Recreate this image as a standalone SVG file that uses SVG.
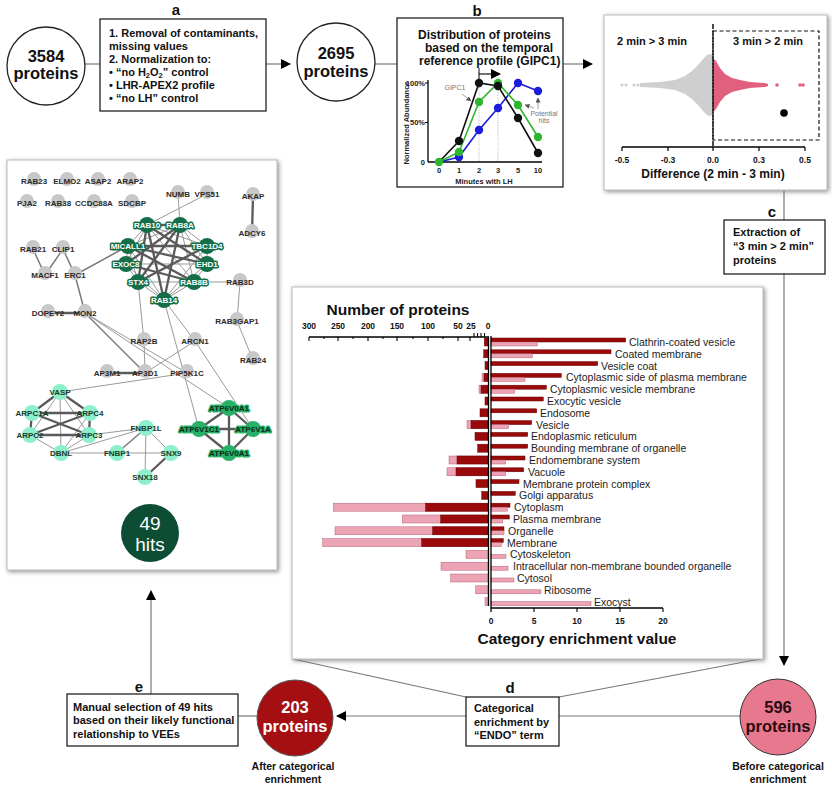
<svg xmlns="http://www.w3.org/2000/svg" width="832" height="785" viewBox="0 0 832 785">
<defs>
<filter id="sh" x="-5%" y="-5%" width="110%" height="110%">
<feDropShadow dx="1.5" dy="1.5" stdDeviation="2" flood-color="#777" flood-opacity="0.8"/>
</filter>
<marker id="ah" viewBox="0 0 10 10" refX="9" refY="5" markerWidth="10" markerHeight="10" markerUnits="userSpaceOnUse" orient="auto">
<path d="M0,0 L10,5 L0,10 z" fill="#000"/>
</marker>
<marker id="sa" viewBox="0 0 10 10" refX="9" refY="5" markerWidth="5" markerHeight="5" markerUnits="userSpaceOnUse" orient="auto">
<path d="M0,0 L10,5 L0,10 z" fill="#555"/>
</marker>
</defs>
<style>
text{font-family:"Liberation Sans",Arial,Helvetica,sans-serif;}
.b{font-weight:bold;}
.flow{stroke:#777;stroke-width:1.2;fill:none;}
.box{fill:#fff;stroke:#222;stroke-width:1.3;}
.panel{fill:#fff;stroke:#bbb;stroke-width:1;}
.lbl{font-size:15px;font-weight:bold;text-anchor:middle;fill:#111;}
.bt{font-size:11px;font-weight:bold;fill:#111;}
.ct{font-size:16.5px;font-weight:bold;text-anchor:middle;}
.sub{font-size:10.5px;font-weight:bold;text-anchor:middle;fill:#111;}
.e1{stroke:#9a9a9a;stroke-width:1;}
.e2{stroke:#5a5a5a;stroke-width:2.3;}
.e3{stroke:#7a7a7a;stroke-width:1.5;}
.gc{fill:#c8c8c8;}
.gt{font-size:8px;font-weight:bold;text-anchor:middle;fill:#2a2a2a;}
.dc{fill:#146f48;}
.dt{font-size:8px;font-weight:bold;text-anchor:middle;fill:#fff;stroke:#146f48;stroke-width:3;paint-order:stroke;stroke-linejoin:round;}
.mc{fill:#27b068;}
.mt{font-size:8px;font-weight:bold;text-anchor:middle;fill:#0a2a18;stroke:#27b068;stroke-width:3;paint-order:stroke;stroke-linejoin:round;}
.lc{fill:#8df0cb;}
.lt{font-size:8px;font-weight:bold;text-anchor:middle;fill:#1b3b2c;}
.dk{fill:#9b0a0a;stroke:#650000;stroke-width:0.5;}
.lp{fill:#eca4b4;stroke:#b5607a;stroke-width:0.5;}
.cat{font-size:10.5px;fill:#222;}
.tk{font-size:8.5px;font-weight:bold;text-anchor:middle;fill:#111;}
.ax{stroke:#000;stroke-width:1.3;fill:none;}
.ss{font-size:7.5px;font-weight:bold;fill:#222;}
</style>
<rect width="832" height="785" fill="#fff"/>

<!-- connectors of the flow -->
<g id="connectors">
<line class="flow" x1="85" y1="64" x2="100" y2="64"/>
<line class="flow" x1="266" y1="64" x2="290" y2="64" marker-end="url(#ah)"/>
<line class="flow" x1="375" y1="64" x2="397" y2="64"/>
<line class="flow" x1="563" y1="64" x2="592" y2="64" marker-end="url(#ah)"/>
<line class="flow" x1="784" y1="113" x2="784" y2="220"/>
<line class="flow" x1="784" y1="274" x2="784" y2="665" marker-end="url(#ah)"/>
<line class="flow" x1="740" y1="716" x2="559" y2="716"/>
<line class="flow" x1="466" y1="716" x2="337" y2="716" marker-end="url(#ah)"/>
<line class="flow" x1="257" y1="716" x2="238" y2="716"/>
<line class="flow" x1="151" y1="694" x2="151" y2="591" marker-end="url(#ah)"/>
<line class="flow" x1="293" y1="659" x2="466" y2="697"/>
<line class="flow" x1="760" y1="659" x2="559" y2="697"/>
</g>

<!-- 3584 proteins -->
<g id="n3584">
<circle cx="46" cy="66" r="39" fill="#fff" stroke="#222" stroke-width="1.3"/>
<text class="ct" x="46" y="62" fill="#111">3584</text>
<text class="ct" x="46" y="79" fill="#111">proteins</text>
</g>

<!-- box a -->
<g id="boxA">
<text class="lbl" x="176" y="15">a</text>
<rect class="box" x="100" y="19" width="166" height="92"/>
<text class="bt" x="109" y="37">1. Removal of contaminants,</text>
<text class="bt" x="109" y="50">missing values</text>
<text class="bt" x="109" y="63">2. Normalization to:</text>
<text class="bt" x="109" y="76">• “no H<tspan font-size="7.5" dy="2">2</tspan><tspan dy="-2">O</tspan><tspan font-size="7.5" dy="2">2</tspan><tspan dy="-2">” control</tspan></text>
<text class="bt" x="109" y="89">• LHR-APEX2 profile</text>
<text class="bt" x="109" y="102">• “no LH” control</text>
</g>

<!-- 2695 proteins -->
<g id="n2695">
<circle cx="336" cy="62" r="39" fill="#fff" stroke="#222" stroke-width="1.3"/>
<text class="ct" x="336" y="59" fill="#111">2695</text>
<text class="ct" x="336" y="77" fill="#111">proteins</text>
</g>

<!-- box b -->
<g id="boxB">
<text class="lbl" x="477" y="16">b</text>
<rect class="box" x="397" y="18" width="166" height="169"/>
<text class="b" font-size="12" x="418" y="39" fill="#111">Distribution of proteins</text>
<text class="b" font-size="12" x="425" y="52" fill="#111">based on the temporal</text>
<text class="b" font-size="12" x="419" y="65" fill="#111">reference profile (GIPC1)</text>
<line x1="479" y1="72" x2="479" y2="162" stroke="#bbb" stroke-width="0.8" stroke-dasharray="1.5 1"/>
<line x1="498" y1="72" x2="498" y2="162" stroke="#bbb" stroke-width="0.8" stroke-dasharray="1.5 1"/>
<line x1="479" y1="68" x2="479" y2="79" stroke="#111" stroke-width="1"/>
<line x1="479" y1="74" x2="500" y2="74" stroke="#111" stroke-width="1.2" marker-end="url(#ah)"/>
<line class="ax" x1="428" y1="80" x2="428" y2="162" stroke-width="1"/>
<line class="ax" x1="428" y1="162" x2="542" y2="162" stroke-width="1"/>
<line x1="425" y1="83" x2="428" y2="83" stroke="#000"/>
<line x1="425" y1="122.5" x2="428" y2="122.5" stroke="#000"/>
<text class="ss" x="425" y="86" text-anchor="end" font-size="7">100%</text>
<text class="ss" x="425" y="125" text-anchor="end" font-size="7">50%</text>
<text class="ss" x="425" y="165" text-anchor="end" font-size="7">0</text>
<text class="ss" x="439" y="173" text-anchor="middle">0</text>
<text class="ss" x="459" y="173" text-anchor="middle">1</text>
<text class="ss" x="479" y="173" text-anchor="middle">2</text>
<text class="ss" x="498" y="173" text-anchor="middle">3</text>
<text class="ss" x="518" y="173" text-anchor="middle">5</text>
<text class="ss" x="538" y="173" text-anchor="middle">10</text>
<text class="ss" x="484" y="184" text-anchor="middle" font-size="8">Minutes with LH</text>
<text class="ss" x="0" y="0" text-anchor="middle" font-size="7.5" transform="translate(409,123) rotate(-90)">Normalized Abundance</text>
<polyline points="439,162 459,157 479,130 498,108 518,83 538,91" fill="none" stroke="#1c1cdc" stroke-width="1.6"/>
<polyline points="439,162 459,152 479,102 498,83 518,105 538,137" fill="none" stroke="#2fb52f" stroke-width="1.6"/>
<polyline points="439,162 459,141 479,83 498,86 518,118 538,153" fill="none" stroke="#111" stroke-width="1.6"/>
<g fill="#1c1cdc"><circle cx="459" cy="157" r="4.2"/><circle cx="479" cy="130" r="4.2"/><circle cx="498" cy="108" r="4.2"/><circle cx="518" cy="83" r="4.2"/><circle cx="538" cy="91" r="4.2"/></g>
<g fill="#2fb52f"><circle cx="459" cy="152" r="4.2"/><circle cx="479" cy="102" r="4.2"/><circle cx="498" cy="83" r="4.2"/><circle cx="518" cy="105" r="4.2"/><circle cx="538" cy="137" r="4.2"/></g>
<g fill="#111"><circle cx="459" cy="141" r="4.2"/><circle cx="479" cy="83" r="4.2"/><circle cx="498" cy="86" r="4.2"/><circle cx="518" cy="118" r="4.2"/><circle cx="538" cy="153" r="4.2"/></g>
<circle cx="439" cy="162" r="4.2" fill="#2fb52f"/>
<text x="455" y="90" font-size="7" fill="#777" text-anchor="middle">GIPC1</text>
<line x1="462" y1="94" x2="471" y2="101" stroke="#777" stroke-width="0.7" marker-end="url(#sa)"/>
<text x="544" y="116" font-size="7" fill="#777" text-anchor="middle">Potential</text>
<text x="544" y="123" font-size="7" fill="#777" text-anchor="middle">hits</text>
<line x1="534" y1="108" x2="525" y2="105" stroke="#777" stroke-width="0.7" marker-end="url(#sa)"/>
<line x1="538" y1="109" x2="538" y2="98" stroke="#777" stroke-width="0.7" marker-end="url(#sa)"/>
</g>

<!-- beeswarm panel -->
<g id="panelSwarm">
<rect class="panel" x="604" y="15" width="223" height="175" filter="url(#sh)"/>
<text class="b" font-size="11" x="652" y="45" text-anchor="middle" fill="#111">2 min &gt; 3 min</text>
<text class="b" font-size="11" x="768" y="45" text-anchor="middle" fill="#111">3 min &gt; 2 min</text>
<g fill="#cfcfcf">
<circle cx="622" cy="85" r="1.6"/><circle cx="626" cy="85" r="1.6"/><circle cx="634" cy="85" r="1.6"/><circle cx="638" cy="85" r="1.6"/><circle cx="643" cy="85" r="1.6"/><circle cx="647" cy="85" r="1.6"/><circle cx="651" cy="85" r="1.6"/>
<path d="M640,83 L660,82 L675,80 L685,76 L692,71 L698,65 L703,59 L707,55 L710,54 L713,55 L713,115 L710,116 L707,115 L703,111 L698,105 L692,99 L685,94 L675,90 L660,88 L640,87 Z"/>
</g>
<g fill="#e0607d">
<path d="M713,58 L716,61 L720,68 L725,74 L732,78 L740,80 L750,82 L765,83 L768,84 L768,86 L765,87 L750,88 L740,90 L732,92 L725,96 L720,102 L716,109 L713,112 Z"/>
<circle cx="777" cy="85" r="1.8"/><circle cx="800" cy="85" r="1.8"/><circle cx="803" cy="85" r="1.8"/>
</g>
<rect x="713" y="31" width="106" height="109" fill="none" stroke="#111" stroke-width="1.2" stroke-dasharray="4 2.5"/>
<line x1="713" y1="24" x2="713" y2="147" stroke="#111" stroke-width="1.5" stroke-dasharray="5 1.5"/>
<line class="ax" x1="622" y1="147" x2="805" y2="147"/>
<g stroke="#000" stroke-width="1.2">
<line x1="622" y1="147" x2="622" y2="151"/><line x1="668" y1="147" x2="668" y2="151"/><line x1="713" y1="147" x2="713" y2="151"/><line x1="759" y1="147" x2="759" y2="151"/><line x1="805" y1="147" x2="805" y2="151"/>
</g>
<text class="tk" x="622" y="163">-0.5</text>
<text class="tk" x="668" y="163">-0.3</text>
<text class="tk" x="713" y="163">0.0</text>
<text class="tk" x="759" y="163">0.3</text>
<text class="tk" x="805" y="163">0.5</text>
<text class="b" font-size="12" x="713" y="178" text-anchor="middle" fill="#111">Difference (2 min - 3 min)</text>
<circle cx="784" cy="113" r="3.8" fill="#000"/>
</g>

<!-- box c -->
<g id="boxC">
<text class="lbl" x="772" y="217">c</text>
<rect class="box" x="724" y="220" width="101" height="54"/>
<text class="bt" x="733" y="236">Extraction of</text>
<text class="bt" x="733" y="250">“3 min &gt; 2 min”</text>
<text class="bt" x="733" y="264">proteins</text>
</g>

<!-- 596 proteins -->
<g id="n596">
<circle cx="778" cy="717" r="38" fill="#e7788e" stroke="#333" stroke-width="1"/>
<text class="ct" x="778" y="713" fill="#2a0a10">596</text>
<text class="ct" x="778" y="732" fill="#2a0a10">proteins</text>
<text class="sub" x="778" y="770">Before categorical</text>
<text class="sub" x="778" y="783">enrichment</text>
</g>

<!-- box d -->
<g id="boxD">
<text class="lbl" x="510" y="693">d</text>
<rect class="box" x="466" y="697" width="93" height="49"/>
<text class="bt" x="474" y="712">Categorical</text>
<text class="bt" x="474" y="726">enrichment by</text>
<text class="bt" x="474" y="739">“ENDO” term</text>
</g>

<!-- 203 proteins -->
<g id="n203">
<circle cx="295" cy="718" r="38" fill="#a50f12" stroke="#555" stroke-width="1"/>
<text class="ct" x="295" y="713" fill="#fff">203</text>
<text class="ct" x="295" y="732" fill="#fff">proteins</text>
<text class="sub" x="293" y="770">After categorical</text>
<text class="sub" x="293" y="783">enrichment</text>
</g>

<!-- box e -->
<g id="boxE">
<text class="lbl" x="139" y="692">e</text>
<rect class="box" x="67" y="694" width="171" height="52"/>
<text class="bt" x="73" y="711">Manual selection of 49 hits</text>
<text class="bt" x="73" y="724">based on their likely functional</text>
<text class="bt" x="73" y="738">relationship to VEEs</text>
</g>

<!-- bar chart panel -->
<g id="panelBars">
<rect class="panel" x="292" y="287" width="471" height="372" filter="url(#sh)"/>
<text class="b" font-size="15.5" x="398" y="315" text-anchor="middle" fill="#111">Number of proteins</text>
<line class="ax" x1="309" y1="337" x2="489" y2="337"/>
<g stroke="#000" stroke-width="1.1">
<line x1="309" y1="337" x2="309" y2="341"/><line x1="338" y1="337" x2="338" y2="341"/><line x1="368" y1="337" x2="368" y2="341"/><line x1="397" y1="337" x2="397" y2="341"/><line x1="428" y1="337" x2="428" y2="341"/><line x1="458" y1="337" x2="458" y2="341"/><line x1="470" y1="337" x2="470" y2="341"/>
<line x1="324" y1="337" x2="324" y2="339"/><line x1="353" y1="337" x2="353" y2="339"/><line x1="383" y1="337" x2="383" y2="339"/><line x1="413" y1="337" x2="413" y2="339"/><line x1="443" y1="337" x2="443" y2="339"/>
<line x1="474" y1="337" x2="474" y2="333"/><line x1="477.5" y1="337" x2="477.5" y2="333"/><line x1="481" y1="337" x2="481" y2="333"/><line x1="484.5" y1="337" x2="484.5" y2="333"/>
</g>
<text class="tk" x="309" y="329">300</text>
<text class="tk" x="338" y="329">250</text>
<text class="tk" x="368" y="329">200</text>
<text class="tk" x="397" y="329">150</text>
<text class="tk" x="428" y="329">100</text>
<text class="tk" x="458" y="329">50</text>
<text class="tk" x="471" y="329">25</text>
<text class="tk" x="488" y="329">0</text>

<!-- left bars (number of proteins) -->
<g>
<rect class="lp" x="482" y="373.4" width="6" height="8"/>
<rect class="lp" x="479" y="385.2" width="9" height="8"/>
<rect class="lp" x="467" y="420.6" width="21" height="8"/>
<rect class="lp" x="449" y="456" width="39" height="8"/>
<rect class="lp" x="447" y="467.8" width="41" height="8"/>
<rect class="lp" x="333.3" y="503.2" width="154.7" height="8"/>
<rect class="lp" x="402.3" y="515" width="85.7" height="8"/>
<rect class="lp" x="335" y="526.8" width="153" height="8"/>
<rect class="lp" x="322.7" y="538.6" width="165.3" height="8"/>
<rect class="lp" x="466" y="550.4" width="22" height="8"/>
<rect class="lp" x="441" y="562.2" width="47" height="8"/>
<rect class="lp" x="450.7" y="574" width="37.3" height="8"/>
<rect class="lp" x="475.7" y="585.8" width="12.3" height="8"/>
<rect class="lp" x="485" y="597.6" width="3" height="8"/>

<rect class="dk" x="484.3" y="338" width="3.7" height="8"/>
<rect class="dk" x="483.7" y="349.8" width="4.3" height="8"/>
<rect class="dk" x="485" y="361.6" width="3" height="8"/>
<rect class="dk" x="484" y="373.4" width="4" height="8"/>
<rect class="dk" x="481" y="385.2" width="7" height="8"/>
<rect class="dk" x="485" y="397" width="3" height="8"/>
<rect class="dk" x="480" y="408.8" width="8" height="8"/>
<rect class="dk" x="471" y="420.6" width="17" height="8"/>
<rect class="dk" x="475" y="432.4" width="13" height="8"/>
<rect class="dk" x="477.7" y="444.2" width="10.3" height="8"/>
<rect class="dk" x="457" y="456" width="31" height="8"/>
<rect class="dk" x="456" y="467.8" width="32" height="8"/>
<rect class="dk" x="476" y="479.6" width="12" height="8"/>
<rect class="dk" x="481.7" y="491.4" width="6.3" height="8"/>
<rect class="dk" x="425.7" y="503.2" width="62.3" height="8"/>
<rect class="dk" x="440.7" y="515" width="47.3" height="8"/>
<rect class="dk" x="432.7" y="526.8" width="55.3" height="8"/>
<rect class="dk" x="421.7" y="538.6" width="66.3" height="8"/>
</g>

<!-- right bars (enrichment) -->
<g>
<rect class="dk" x="491" y="338" width="134.7" height="4"/><rect class="lp" x="491" y="342" width="46.3" height="4"/>
<rect class="dk" x="491" y="349.8" width="120" height="4"/><rect class="lp" x="491" y="353.8" width="41.3" height="4"/>
<rect class="dk" x="491" y="361.6" width="106.7" height="4"/>
<rect class="dk" x="491" y="373.4" width="70.3" height="4"/><rect class="lp" x="491" y="377.4" width="34" height="4"/>
<rect class="dk" x="491" y="385.2" width="55.3" height="4"/><rect class="lp" x="491" y="389.2" width="23.7" height="4"/>
<rect class="dk" x="491" y="397" width="52.3" height="4"/>
<rect class="dk" x="491" y="408.8" width="45.7" height="4"/>
<rect class="dk" x="491" y="420.6" width="40.7" height="4"/><rect class="lp" x="491" y="424.6" width="17.7" height="4"/>
<rect class="dk" x="491" y="432.4" width="36.7" height="4"/>
<rect class="dk" x="491" y="444.2" width="36.7" height="4"/>
<rect class="dk" x="491" y="456" width="34" height="4"/><rect class="lp" x="491" y="460" width="14.7" height="4"/>
<rect class="dk" x="491" y="467.8" width="32.7" height="4"/><rect class="lp" x="491" y="471.8" width="14.7" height="4"/>
<rect class="dk" x="491" y="479.6" width="28" height="4"/>
<rect class="dk" x="491" y="491.4" width="24.3" height="4"/>
<rect class="dk" x="491" y="503.2" width="19" height="4"/><rect class="lp" x="491" y="507.2" width="16.3" height="4"/>
<rect class="dk" x="491" y="515" width="18.3" height="4"/><rect class="lp" x="491" y="519" width="11.7" height="4"/>
<rect class="dk" x="491" y="526.8" width="13" height="4"/><rect class="lp" x="491" y="530.8" width="13" height="4"/>
<rect class="dk" x="491" y="538.6" width="12.3" height="4"/><rect class="lp" x="491" y="542.6" width="10.3" height="4"/>
<rect class="lp" x="491" y="554.4" width="15" height="4"/>
<rect class="lp" x="491" y="566.2" width="17" height="4"/>
<rect class="lp" x="491" y="578" width="23" height="4"/>
<rect class="lp" x="491" y="589.8" width="50" height="4"/>
<rect class="lp" x="491" y="601.6" width="100" height="4"/>
</g>
<g>
<text class="cat" x="629" y="346">Clathrin-coated vesicle</text>
<text class="cat" x="615" y="357.8">Coated membrane</text>
<text class="cat" x="601" y="369.6">Vesicle coat</text>
<text class="cat" x="566" y="381.4">Cytoplasmic side of plasma membrane</text>
<text class="cat" x="550" y="393.2">Cytoplasmic vesicle membrane</text>
<text class="cat" x="547" y="405">Exocytic vesicle</text>
<text class="cat" x="540" y="416.8">Endosome</text>
<text class="cat" x="536" y="428.6">Vesicle</text>
<text class="cat" x="531" y="440.4">Endoplasmic reticulum</text>
<text class="cat" x="531" y="452.2">Bounding membrane of organelle</text>
<text class="cat" x="529" y="464">Endomembrane system</text>
<text class="cat" x="528" y="475.8">Vacuole</text>
<text class="cat" x="523" y="487.6">Membrane protein complex</text>
<text class="cat" x="519" y="499.4">Golgi apparatus</text>
<text class="cat" x="514" y="511.2">Cytoplasm</text>
<text class="cat" x="513" y="523">Plasma membrane</text>
<text class="cat" x="508" y="534.8">Organelle</text>
<text class="cat" x="507" y="546.6">Membrane</text>
<text class="cat" x="510" y="558.4">Cytoskeleton</text>
<text class="cat" x="513" y="570.2">Intracellular non-membrane bounded organelle</text>
<text class="cat" x="517" y="582">Cytosol</text>
<text class="cat" x="544" y="593.8">Ribosome</text>
<text class="cat" x="594" y="605.6">Exocyst</text>
</g>
<line class="ax" x1="488.5" y1="337" x2="488.5" y2="606"/>
<line class="ax" x1="491" y1="336" x2="491" y2="612" stroke-width="1.5"/>
<line class="ax" x1="491" y1="608" x2="663" y2="608"/>
<g stroke="#000" stroke-width="1.1">
<line x1="534" y1="608" x2="534" y2="612"/><line x1="577" y1="608" x2="577" y2="612"/><line x1="620" y1="608" x2="620" y2="612"/><line x1="663" y1="608" x2="663" y2="612"/>
</g>
<text class="tk" x="491" y="624">0</text>
<text class="tk" x="534" y="624">5</text>
<text class="tk" x="577" y="624">10</text>
<text class="tk" x="620" y="624">15</text>
<text class="tk" x="663" y="624">20</text>
<text class="b" font-size="15.5" x="577" y="644" text-anchor="middle" fill="#111">Category enrichment value</text>
</g>

<!-- network panel -->
<g id="panelNetwork">
<rect class="panel" x="7" y="160" width="270" height="410" filter="url(#sh)"/>
</g>

<g id="net-edges">
<line class="e1" x1="178" y1="194" x2="180" y2="225"/>
<line class="e1" x1="207" y1="194" x2="147" y2="225"/>
<line class="e2" x1="253" y1="196" x2="252" y2="233"/>
<line class="e3" x1="33" y1="249" x2="45" y2="275"/>
<line class="e3" x1="63" y1="249" x2="45" y2="275"/>
<line class="e3" x1="63" y1="249" x2="75" y2="275"/>
<line class="e3" x1="75" y1="275" x2="128" y2="246"/>
<line class="e3" x1="75" y1="275" x2="85" y2="313"/>
<line class="e2" x1="48" y1="313" x2="85" y2="313"/>
<line class="e3" x1="85" y1="313" x2="145" y2="373"/>
<line class="e1" x1="85" y1="313" x2="187" y2="373"/>
<line class="e1" x1="85" y1="313" x2="229" y2="408"/>
<line class="e1" x1="194" y1="282" x2="240" y2="282"/>
<line class="e1" x1="240" y1="282" x2="237" y2="321"/>
<line class="e1" x1="237" y1="321" x2="253" y2="360"/>
<line class="e1" x1="138" y1="282" x2="144" y2="341"/>
<line class="e1" x1="144" y1="341" x2="145" y2="373"/>
<line class="e1" x1="164" y1="300" x2="195" y2="341"/>
<line class="e1" x1="164" y1="300" x2="199" y2="429"/>
<line class="e1" x1="195" y1="341" x2="253" y2="429"/>
<line class="e1" x1="195" y1="341" x2="145" y2="373"/>
<line class="e2" x1="107" y1="373" x2="145" y2="373"/>
<line class="e1" x1="187" y1="373" x2="60" y2="392"/>
<!-- RAB cluster -->
<line class="e1" x1="147" y1="225" x2="128" y2="246"/>
<line class="e1" x1="147" y1="225" x2="207" y2="246"/>
<line class="e1" x1="147" y1="225" x2="126" y2="264"/>
<line class="e1" x1="147" y1="225" x2="194" y2="282"/>
<line class="e1" x1="180" y1="225" x2="128" y2="246"/>
<line class="e1" x1="180" y1="225" x2="207" y2="246"/>
<line class="e1" x1="180" y1="225" x2="207" y2="264"/>
<line class="e1" x1="180" y1="225" x2="194" y2="282"/>
<line class="e1" x1="128" y1="246" x2="126" y2="264"/>
<line class="e1" x1="128" y1="246" x2="138" y2="282"/>
<line class="e1" x1="128" y1="246" x2="164" y2="300"/>
<line class="e1" x1="207" y1="246" x2="207" y2="264"/>
<line class="e1" x1="207" y1="246" x2="164" y2="300"/>
<line class="e1" x1="126" y1="264" x2="138" y2="282"/>
<line class="e1" x1="126" y1="264" x2="164" y2="300"/>
<line class="e1" x1="126" y1="264" x2="207" y2="264"/>
<line class="e1" x1="207" y1="264" x2="194" y2="282"/>
<line class="e1" x1="207" y1="264" x2="164" y2="300"/>
<line class="e1" x1="138" y1="282" x2="194" y2="282"/>
<line class="e1" x1="138" y1="282" x2="164" y2="300"/>
<line class="e1" x1="194" y1="282" x2="164" y2="300"/>
<line class="e2" x1="147" y1="225" x2="180" y2="225"/>
<line class="e2" x1="147" y1="225" x2="138" y2="282"/>
<line class="e2" x1="147" y1="225" x2="164" y2="300"/>
<line class="e2" x1="147" y1="225" x2="207" y2="264"/>
<line class="e2" x1="180" y1="225" x2="138" y2="282"/>
<line class="e2" x1="180" y1="225" x2="164" y2="300"/>
<line class="e2" x1="180" y1="225" x2="126" y2="264"/>
<line class="e2" x1="128" y1="246" x2="207" y2="264"/>
<line class="e2" x1="128" y1="246" x2="207" y2="246"/>
<line class="e2" x1="128" y1="246" x2="194" y2="282"/>
<line class="e2" x1="126" y1="264" x2="194" y2="282"/>
<line class="e2" x1="207" y1="246" x2="138" y2="282"/>
<!-- actin cluster -->
<line class="e1" x1="60" y1="392" x2="30" y2="435"/>
<line class="e1" x1="60" y1="392" x2="89" y2="435"/>
<line class="e1" x1="60" y1="392" x2="61" y2="453"/>
<line class="e1" x1="30" y1="435" x2="61" y2="453"/>
<line class="e1" x1="89" y1="435" x2="61" y2="453"/>
<line class="e1" x1="90" y1="413" x2="61" y2="453"/>
<line class="e1" x1="61" y1="453" x2="117" y2="453"/>
<line class="e1" x1="61" y1="453" x2="146" y2="428"/>
<line class="e1" x1="89" y1="435" x2="146" y2="428"/>
<line class="e1" x1="117" y1="453" x2="171" y2="453"/>
<line class="e1" x1="146" y1="428" x2="171" y2="453"/>
<line class="e1" x1="146" y1="428" x2="145" y2="477"/>
<line class="e3" x1="146" y1="428" x2="117" y2="453"/>
<line class="e2" x1="171" y1="453" x2="145" y2="477"/>
<line class="e2" x1="60" y1="392" x2="32" y2="413"/>
<line class="e2" x1="60" y1="392" x2="90" y2="413"/>
<line class="e2" x1="32" y1="413" x2="90" y2="413"/>
<line class="e2" x1="30" y1="435" x2="89" y2="435"/>
<line class="e2" x1="32" y1="413" x2="89" y2="435"/>
<line class="e2" x1="90" y1="413" x2="30" y2="435"/>
<line class="e2" x1="32" y1="413" x2="30" y2="435"/>
<line class="e2" x1="90" y1="413" x2="89" y2="435"/>
<!-- ATPase cluster -->
<line class="e2" x1="229" y1="408" x2="199" y2="429"/>
<line class="e2" x1="229" y1="408" x2="253" y2="429"/>
<line class="e2" x1="229" y1="408" x2="229" y2="453"/>
<line class="e2" x1="199" y1="429" x2="253" y2="429"/>
<line class="e2" x1="199" y1="429" x2="229" y2="453"/>
<line class="e2" x1="253" y1="429" x2="229" y2="453"/>
</g>

<!-- gray nodes -->
<g id="n-RAB23"><circle class="gc" cx="34" cy="179" r="7"/><text class="gt" x="34" y="184">RAB23</text></g>
<g id="n-ELMO2"><circle class="gc" cx="67" cy="179" r="7"/><text class="gt" x="67" y="184">ELMO2</text></g>
<g id="n-ASAP2"><circle class="gc" cx="98" cy="179" r="7"/><text class="gt" x="98" y="184">ASAP2</text></g>
<g id="n-ARAP2"><circle class="gc" cx="130" cy="179" r="7"/><text class="gt" x="130" y="184">ARAP2</text></g>
<g id="n-PJA2"><circle class="gc" cx="27" cy="201" r="7"/><text class="gt" x="27" y="206">PJA2</text></g>
<g id="n-RAB38"><circle class="gc" cx="58" cy="201" r="7"/><text class="gt" x="58" y="206">RAB38</text></g>
<g id="n-CCDC88A"><circle class="gc" cx="94" cy="201" r="7"/><text class="gt" x="94" y="206">CCDC88A</text></g>
<g id="n-SDCBP"><circle class="gc" cx="132" cy="201" r="7"/><text class="gt" x="132" y="206">SDCBP</text></g>
<g id="n-NUMB"><circle class="gc" cx="178" cy="192" r="7"/><text class="gt" x="178" y="197">NUMB</text></g>
<g id="n-VPS51"><circle class="gc" cx="207" cy="192" r="7"/><text class="gt" x="207" y="197">VPS51</text></g>
<g id="n-AKAP"><circle class="gc" cx="253" cy="194" r="7"/><text class="gt" x="253" y="199">AKAP</text></g>
<g id="n-ADCY6"><circle class="gc" cx="252" cy="231" r="7"/><text class="gt" x="252" y="236">ADCY6</text></g>
<g id="n-RAB21"><circle class="gc" cx="33" cy="247" r="7"/><text class="gt" x="33" y="252">RAB21</text></g>
<g id="n-CLIP1"><circle class="gc" cx="63" cy="247" r="7"/><text class="gt" x="63" y="252">CLIP1</text></g>
<g id="n-MACF1"><circle class="gc" cx="45" cy="273" r="7"/><text class="gt" x="45" y="278">MACF1</text></g>
<g id="n-ERC1"><circle class="gc" cx="75" cy="273" r="7"/><text class="gt" x="75" y="278">ERC1</text></g>
<g id="n-DOPEY2"><circle class="gc" cx="48" cy="311" r="7"/><text class="gt" x="48" y="316">DOPEY2</text></g>
<g id="n-MON2"><circle class="gc" cx="85" cy="311" r="7"/><text class="gt" x="85" y="316">MON2</text></g>
<g id="n-RAB3D"><circle class="gc" cx="240" cy="280" r="7"/><text class="gt" x="240" y="285">RAB3D</text></g>
<g id="n-RAB3GAP1"><circle class="gc" cx="237" cy="319" r="7"/><text class="gt" x="237" y="324">RAB3GAP1</text></g>
<g id="n-RAP2B"><circle class="gc" cx="144" cy="339" r="7"/><text class="gt" x="144" y="344">RAP2B</text></g>
<g id="n-ARCN1"><circle class="gc" cx="195" cy="339" r="7"/><text class="gt" x="195" y="344">ARCN1</text></g>
<g id="n-RAB24"><circle class="gc" cx="253" cy="358" r="7"/><text class="gt" x="253" y="363">RAB24</text></g>
<g id="n-AP3M1"><circle class="gc" cx="107" cy="371" r="7"/><text class="gt" x="107" y="376">AP3M1</text></g>
<g id="n-AP3D1"><circle class="gc" cx="145" cy="371" r="7"/><text class="gt" x="145" y="376">AP3D1</text></g>
<g id="n-PIP5K1C"><circle class="gc" cx="187" cy="371" r="7"/><text class="gt" x="187" y="376">PIP5K1C</text></g>

<!-- dark green nodes -->
<g id="n-RAB10"><circle class="dc" cx="147" cy="225" r="8"/><text class="dt" x="147" y="228">RAB10</text></g>
<g id="n-RAB8A"><circle class="dc" cx="180" cy="225" r="8"/><text class="dt" x="180" y="228">RAB8A</text></g>
<g id="n-MICALL1"><circle class="dc" cx="128" cy="246" r="8"/><text class="dt" x="128" y="249">MICALL1</text></g>
<g id="n-TBC1D4"><circle class="dc" cx="207" cy="246" r="8"/><text class="dt" x="207" y="249">TBC1D4</text></g>
<g id="n-EXOC8"><circle class="dc" cx="126" cy="264" r="8"/><text class="dt" x="126" y="267">EXOC8</text></g>
<g id="n-EHD1"><circle class="dc" cx="207" cy="264" r="8"/><text class="dt" x="207" y="267">EHD1</text></g>
<g id="n-STX4"><circle class="dc" cx="138" cy="282" r="8"/><text class="dt" x="138" y="285">STX4</text></g>
<g id="n-RAB8B"><circle class="dc" cx="194" cy="282" r="8"/><text class="dt" x="194" y="285">RAB8B</text></g>
<g id="n-RAB14"><circle class="dc" cx="164" cy="300" r="8"/><text class="dt" x="164" y="303">RAB14</text></g>

<!-- medium green nodes -->
<g id="n-ATP6V0A1a"><circle class="mc" cx="229" cy="408" r="8"/><text class="mt" x="229" y="411">ATP6V0A1</text></g>
<g id="n-ATP6V1C1"><circle class="mc" cx="199" cy="429" r="8"/><text class="mt" x="199" y="432">ATP6V1C1</text></g>
<g id="n-ATP6V1A"><circle class="mc" cx="253" cy="429" r="8"/><text class="mt" x="253" y="432">ATP6V1A</text></g>
<g id="n-ATP6V0A1b"><circle class="mc" cx="229" cy="453" r="8"/><text class="mt" x="229" y="456">ATP6V0A1</text></g>

<!-- light green nodes -->
<g id="n-VASP"><circle class="lc" cx="60" cy="392" r="8"/><text class="lt" x="60" y="395">VASP</text></g>
<g id="n-ARPC1A"><circle class="lc" cx="32" cy="413" r="8"/><text class="lt" x="32" y="416">ARPC1A</text></g>
<g id="n-ARPC4"><circle class="lc" cx="90" cy="413" r="8"/><text class="lt" x="90" y="416">ARPC4</text></g>
<g id="n-ARPC2"><circle class="lc" cx="30" cy="435" r="8"/><text class="lt" x="30" y="438">ARPC2</text></g>
<g id="n-ARPC3"><circle class="lc" cx="89" cy="435" r="8"/><text class="lt" x="89" y="438">ARPC3</text></g>
<g id="n-DBNL"><circle class="lc" cx="61" cy="453" r="8"/><text class="lt" x="61" y="456">DBNL</text></g>
<g id="n-FNBP1L"><circle class="lc" cx="146" cy="428" r="8"/><text class="lt" x="146" y="431">FNBP1L</text></g>
<g id="n-FNBP1"><circle class="lc" cx="117" cy="453" r="8"/><text class="lt" x="117" y="456">FNBP1</text></g>
<g id="n-SNX9"><circle class="lc" cx="171" cy="453" r="8"/><text class="lt" x="171" y="456">SNX9</text></g>
<g id="n-SNX18"><circle class="lc" cx="145" cy="477" r="8"/><text class="lt" x="145" y="480">SNX18</text></g>

<!-- 49 hits -->
<g id="n49hits">
<circle cx="150" cy="533" r="29" fill="#0c4d34"/>
<text x="150" y="530" font-size="19" text-anchor="middle" fill="#fff">49</text>
<text x="150" y="551" font-size="19" text-anchor="middle" fill="#fff">hits</text>
</g>
</svg>
